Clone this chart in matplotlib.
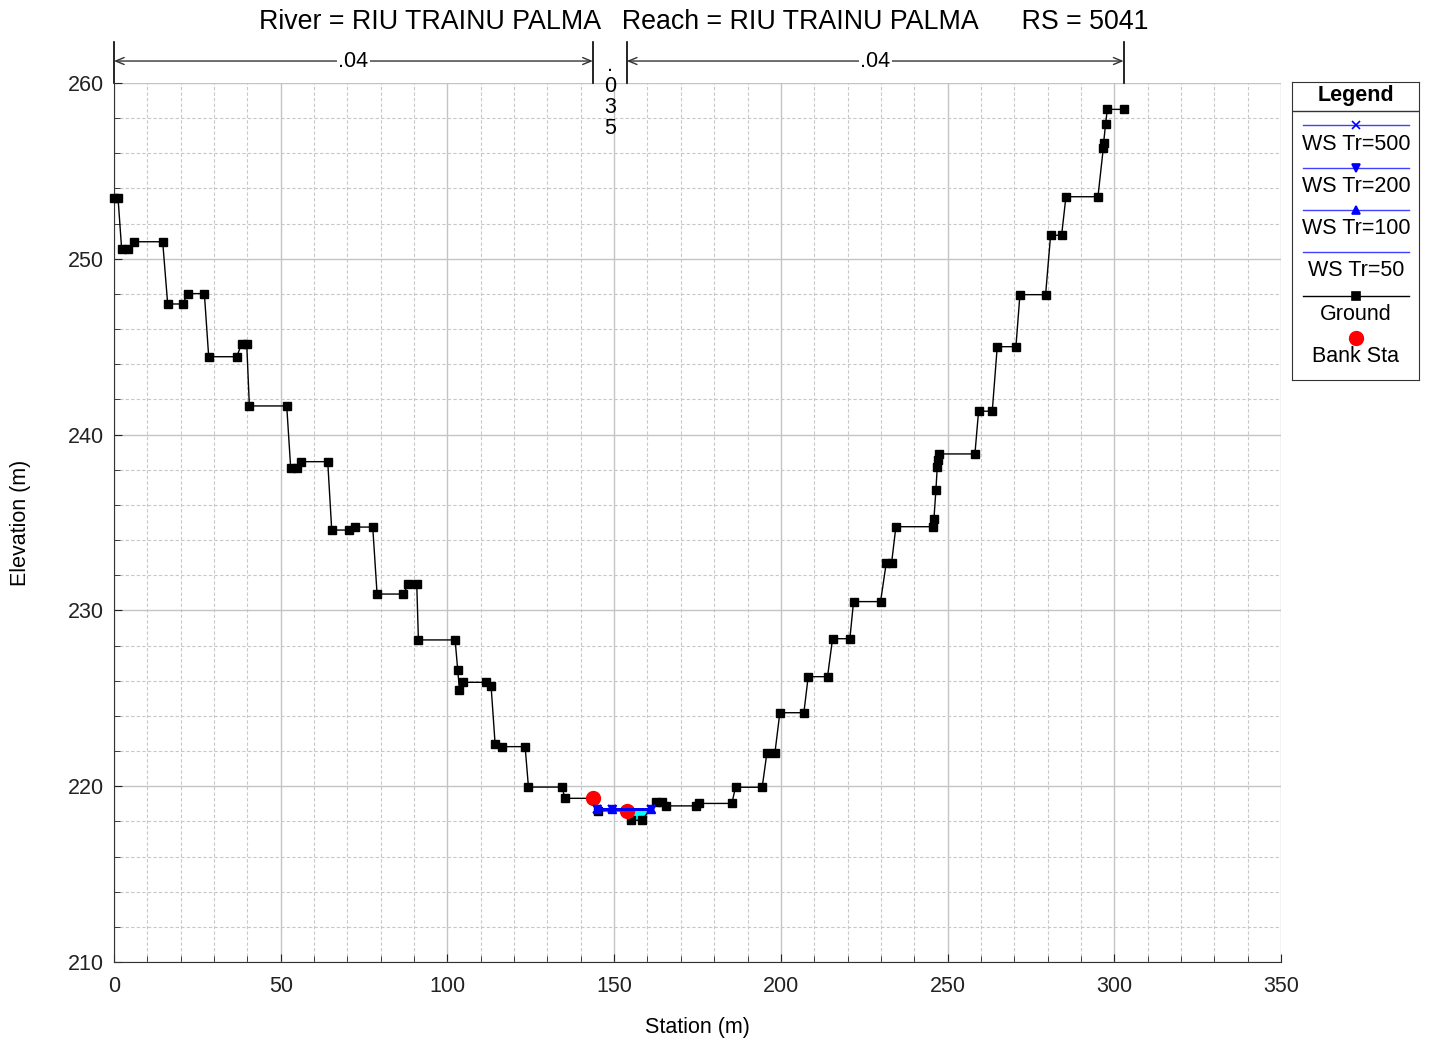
import matplotlib
matplotlib.use("Agg")
import numpy as np
import matplotlib.pyplot as plt
import matplotlib.transforms as mtransforms
from matplotlib.ticker import MultipleLocator

plt.rcParams['font.family'] = ['Liberation Sans', 'DejaVu Sans']

# cross section RS 5041 - ground points
ground_sta = [0.0, 1.2, 2.3, 4.3, 6.0, 14.6, 16.1, 20.6, 22.1, 27.1,
              28.4, 36.8, 38.3, 39.8, 40.6, 51.8, 53.0, 54.8, 56.1, 64.1,
              65.3, 70.6, 72.3, 77.6, 78.9, 86.8, 88.3, 90.8, 91.3, 102.3,
              103.1, 103.6, 104.8, 111.6, 113.1, 114.3, 116.3, 123.3, 124.3, 134.3,
              135.3, 143.6, 145.2, 153.8, 155.0, 158.3, 162.5, 164.5, 165.5, 174.7,
              175.4, 185.3, 186.4, 194.4, 195.8, 198.2, 199.7, 206.9, 208.2, 214.0,
              215.5, 220.7, 221.8, 229.9, 231.6, 233.2, 234.5, 245.5, 245.9, 246.5,
              246.9, 247.2, 247.5, 258.2, 259.3, 263.4, 264.9, 270.5, 271.7, 279.4,
              280.9, 284.2, 285.5, 295.1, 296.7, 296.8, 297.4, 297.9, 302.8]
ground_elev = [253.48, 253.48, 250.54, 250.54, 250.97, 250.97, 247.43, 247.43, 248.02, 248.02,
               244.43, 244.43, 245.17, 245.17, 241.63, 241.63, 238.08, 238.08, 238.46, 238.46,
               234.57, 234.57, 234.74, 234.74, 230.93, 230.93, 231.50, 231.50, 228.32, 228.32,
               226.59, 225.49, 225.91, 225.91, 225.68, 222.40, 222.25, 222.25, 219.95, 219.95,
               219.31, 219.31, 218.60, 218.60, 218.06, 218.06, 219.08, 219.08, 218.88, 218.88,
               219.02, 219.02, 219.94, 219.94, 221.87, 221.87, 224.18, 224.18, 226.23, 226.23,
               228.39, 228.39, 230.50, 230.50, 232.68, 232.68, 234.76, 234.76, 235.18, 236.83,
               238.14, 238.56, 238.90, 238.90, 241.33, 241.33, 245.00, 245.00, 247.96, 247.96,
               251.34, 251.34, 253.53, 253.53, 256.28, 256.60, 257.68, 258.50, 258.50]

bank_sta = [143.6, 153.8]
bank_elev = [219.31, 218.60]

# water surfaces (all profiles end up at the same level here)
ws_sta = [145.0, 149.5, 161.0]
ws500 = [218.72, 218.72, 218.72]
ws200 = [218.72, 218.72, 218.72]
ws100 = [218.72, 218.72, 218.72]
ws50 = [218.72, 218.72, 218.72]

n_breaks = [0.0, 143.6, 153.8, 302.8]
n_values = ['.04', '.035', '.04']

title = "River = RIU TRAINU PALMA   Reach = RIU TRAINU PALMA      RS = 5041"

fig = plt.figure(figsize=(14.3, 10.4), dpi=100)
ax = fig.add_axes([114 / 1430, 1 - 962 / 1040, 1167 / 1430, 879 / 1040])

# water fill
fill_x = [ws_sta[0]] + [s for s in ground_sta if ws_sta[0] < s < ws_sta[-1]] + [ws_sta[-1]]
fill_g = np.interp(fill_x, ground_sta, ground_elev)
ax.fill_between(fill_x, fill_g, ws50[0], color='cyan', lw=0, zorder=2)

ax.plot(ground_sta, ground_elev, color='black', lw=1, marker='s', ms=5.8,
        mec='black', mfc='black', zorder=3, clip_on=False)
ax.plot(bank_sta, bank_elev, ls='none', marker='o', ms=10, color='red', zorder=4)
ax.plot(ws_sta, ws50, color='blue', lw=2, zorder=5)
ax.plot(ws_sta, ws100, color='blue', lw=2, marker='^', ms=6, zorder=5)
ax.plot(ws_sta, ws200, color='blue', lw=2, marker='v', ms=6, zorder=5)
ax.plot(ws_sta, ws500, color='blue', lw=2, marker='x', ms=6, mew=1.5, zorder=5)

ax.set_xlim(0, 350)
ax.set_ylim(210, 260)
ax.xaxis.set_major_locator(MultipleLocator(50))
ax.xaxis.set_minor_locator(MultipleLocator(10))
ax.yaxis.set_major_locator(MultipleLocator(10))
ax.yaxis.set_minor_locator(MultipleLocator(2))
ax.grid(which='major', color='#c4c4c4', lw=1, ls='-')
ax.grid(which='minor', color='#c8c8c8', lw=0.8, ls=(0, (3, 2)))
ax.set_axisbelow(True)
ax.tick_params(which='both', direction='in', labelsize=15.5, colors='#222222')
ax.tick_params(which='major', length=6, pad=7)
ax.tick_params(axis='x', which='major', pad=10)
ax.tick_params(which='minor', length=4)
for side in ['top', 'right']:
    ax.spines[side].set_visible(False)
for side in ['left', 'bottom']:
    ax.spines[side].set_color('#333333')
ax.set_xlabel('Station (m)', fontsize=15.5, labelpad=14.5)
ax.set_ylabel('Elevation (m)', fontsize=15.5, labelpad=27)

fig.text(704 / 1430, 1 - 22 / 1040, title, fontsize=19.3, ha='center', va='center')

# Manning's n bars above the plot
trans = mtransforms.blended_transform_factory(ax.transData, ax.transAxes)
for b in n_breaks:
    ax.plot([b, b], [1.0, 1.0466], color='black', lw=1.2, transform=trans, clip_on=False)
for i, val in enumerate(n_values):
    left, right = n_breaks[i], n_breaks[i + 1]
    mid = (left + right) / 2
    if right - left > 30:
        ax.annotate('', xy=(left, 1.025), xytext=(right, 1.025), xycoords=trans, textcoords=trans,
                    arrowprops=dict(arrowstyle='<->,head_length=0.6,head_width=0.25',
                                    color='#333333', lw=1, shrinkA=0, shrinkB=0))
        ax.text(mid, 1.024, val, transform=trans, ha='center', va='center', fontsize=15.5,
                bbox=dict(facecolor='white', edgecolor='none', pad=1))
    else:
        for k, ch in enumerate(val):
            ax.text(mid, 1.0136 - k * 0.0239, ch, transform=trans, ha='center',
                    va='baseline', fontsize=15.5, clip_on=False)

# legend box drawn in pixel space
lax = fig.add_axes([1292 / 1430, 1 - 380 / 1040, 127 / 1430, 298 / 1040])
lax.set_xlim(1292, 1419)
lax.set_ylim(380, 82)
lax.set_xticks([])
lax.set_yticks([])
for s in lax.spines.values():
    s.set_color('#333333')
lax.text(1356, 96, 'Legend', ha='center', va='center', fontsize=15.5, fontweight='bold')
lax.plot([1292, 1419], [111, 111], color='#333333', lw=1)

leg_items = [('WS Tr=500', 'blue', 'x', 125, 144),
             ('WS Tr=200', 'blue', 'v', 168, 186),
             ('WS Tr=100', 'blue', '^', 210, 228),
             ('WS Tr=50', 'blue', None, 252, 271),
             ('Ground', 'black', 's', 296, 314)]
for label, col, mk, ly, ty in leg_items:
    lax.plot([1303, 1409], [ly, ly], color=col, lw=1, alpha=0.75 if col == 'blue' else 1)
    if mk:
        lax.plot([1356], [ly], marker=mk, color=col, ms=6, mew=1.2)
    lax.text(1356, ty, label, ha='center', va='center', fontsize=15.5)
lax.plot([1356], [338], marker='o', color='red', ms=10, ls='none')
lax.text(1356, 357, 'Bank Sta', ha='center', va='center', fontsize=15.5)

fig.savefig('out.png', dpi=100)
